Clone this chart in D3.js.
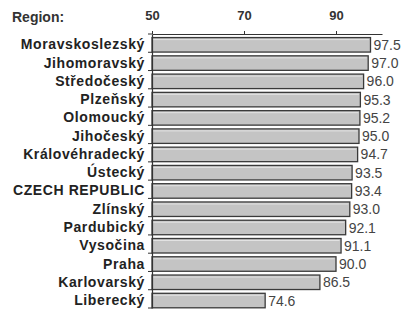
<!DOCTYPE html>
<html><head><meta charset="utf-8">
<script src="https://cdn.jsdelivr.net/npm/d3@7"></script>
<style>body{margin:0;background:#fff}svg{display:block}</style>
</head><body>
<script>
const regions = ["Moravskoslezský","Jihomoravský","Středočeský","Plzeňský","Olomoucký","Jihočeský","Královéhradecký","Ústecký","CZECH REPUBLIC","Zlínský","Pardubický","Vysočina","Praha","Karlovarský","Liberecký"];
const values = [97.5,97.0,96.0,95.3,95.2,95.0,94.7,93.5,93.4,93.0,92.1,91.1,90.0,86.5,74.6];
const tickValues = [50,70,90];
const axisTitle = "Region:";

const W=406,H=311;
const svg=d3.select("body").append("svg").attr("width",W).attr("height",H);
const x=d3.scaleLinear().domain([50,100]).range([152,382]);
const y=d3.scaleBand().domain(regions).range([34,308]);
const bh=14.5, off=y.bandwidth()-bh-0.2;

// bars
svg.selectAll("rect.bar").data(regions).join("rect")
  .attr("x",x(50)).attr("y",d=>y(d)+off)
  .attr("width",(d,i)=>x(values[i])-x(50)).attr("height",bh)
  .attr("fill","#c4c4c4").attr("stroke","#3a3a3a").attr("stroke-width",1.3);
svg.selectAll("line.hi").data(regions).join("line")
  .attr("x1",x(50)+1).attr("x2",(d,i)=>x(values[i])-1.5)
  .attr("y1",d=>y(d)+off+2).attr("y2",d=>y(d)+off+2)
  .attr("stroke","#e2e2e2").attr("stroke-width",1);

// value labels
svg.selectAll("text.val").data(regions).join("text")
  .attr("x",(d,i)=>x(values[i])+3).attr("y",d=>y(d)+off+bh/2)
  .attr("dy","0.36em").attr("font-family","Liberation Sans, Arial, sans-serif")
  .attr("font-size",14).attr("fill","#444")
  .text((d,i)=>values[i].toFixed(1));

// top axis
const ax=svg.append("g").attr("transform","translate(0,34)")
  .call(d3.axisTop(x).tickValues(tickValues).tickSize(3).tickPadding(11).tickSizeOuter(0));
ax.select(".domain").attr("stroke","#333").attr("stroke-width",1.2);
ax.selectAll(".tick line").attr("stroke","#333");
ax.selectAll(".tick text").attr("font-family","Liberation Sans, Arial, sans-serif")
  .attr("font-size",13).attr("font-weight","bold").attr("fill","#333");

// left axis
const ay=svg.append("g").attr("transform","translate(152,0)")
  .call(d3.axisLeft(y).tickSize(0).tickPadding(7));
ay.select(".domain").attr("stroke","#333").attr("stroke-width",1.2);
ay.selectAll(".tick text").attr("font-family","Liberation Sans, Arial, sans-serif")
  .attr("font-size",14).attr("font-weight","bold").attr("fill","#222")
  .attr("letter-spacing","0.6px")
  .attr("y",off-y.bandwidth()/2+bh/2);
// boundary tick marks
svg.selectAll("line.bt").data(d3.range(regions.length+1)).join("line")
  .attr("x1",148).attr("x2",152)
  .attr("y1",i=>34+i*y.step()).attr("y2",i=>34+i*y.step())
  .attr("stroke","#333");

svg.append("text").attr("x",12).attr("y",22)
  .attr("font-family","Liberation Sans, Arial, sans-serif")
  .attr("font-size",14).attr("font-weight","bold").attr("fill","#333")
  .text(axisTitle);
</script>
</body></html>
